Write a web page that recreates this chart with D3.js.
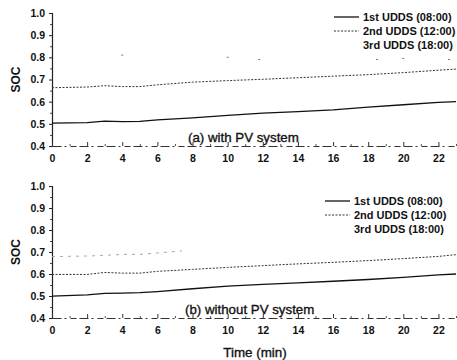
<!DOCTYPE html>
<html>
<head>
<meta charset="utf-8">
<script src="https://cdn.jsdelivr.net/npm/d3@7"></script>
<style>
  body { margin: 0; background: #fff; }
  svg { display: block; font-family: "Liberation Sans", Arial, sans-serif; }
</style>
</head>
<body>
<div id="vis-container"></div>
<script>
// time axis (min) shared by the 1st and 2nd run
var minutes = [0, 2, 3, 4, 5, 6, 8, 10, 12, 14, 16, 18, 20, 22, 23];

// (a) with PV system
var withPV1 = [0.503, 0.505, 0.512, 0.510, 0.511, 0.518, 0.527, 0.538, 0.548, 0.555, 0.563, 0.575, 0.586, 0.597, 0.600];
var withPV2 = [0.663, 0.666, 0.672, 0.668, 0.668, 0.676, 0.688, 0.695, 0.701, 0.708, 0.715, 0.722, 0.731, 0.742, 0.747];
// 3rd run barely survives in the scan, only a few dots
var withPV3Min = [4, 10, 11.8, 18.5, 20, 22.6];
var withPV3 = [0.81, 0.80, 0.79, 0.79, 0.795, 0.79];

// (b) without PV system
var noPV1 = [0.499, 0.505, 0.512, 0.513, 0.515, 0.520, 0.533, 0.545, 0.553, 0.560, 0.567, 0.575, 0.585, 0.596, 0.600];
var noPV2 = [0.598, 0.598, 0.607, 0.604, 0.604, 0.612, 0.621, 0.630, 0.638, 0.646, 0.653, 0.661, 0.670, 0.680, 0.688];
var noPV3Min = [0, 2.2, 4, 5, 7.4];
var noPV3 = [0.679, 0.682, 0.689, 0.689, 0.705];

var legendNames = ["1st UDDS (08:00)", "2nd UDDS (12:00)", "3rd UDDS (18:00)"];
var xTicks = d3.range(0, 23, 2);
var yTicks = [0.4, 0.5, 0.6, 0.7, 0.8, 0.9, 1.0];

var W = 457, H = 360;
var svg = d3.select("#vis-container").append("svg")
  .attr("width", W).attr("height", H);
svg.append("rect").attr("width", W).attr("height", H).attr("fill", "#fff");

var x = d3.scaleLinear().domain([0, 23]).range([52, 456]);

function heavy(sel) {
  // scanned print looks a bit thicker
  sel.attr("stroke", "#111").attr("stroke-width", 0.35);
}

function drawPanel(top, bottom, s1, s2, s3x, s3, s3asLine, label, labelX, legX, legY) {
  var y = d3.scaleLinear().domain([0.4, 1.0]).range([bottom, top]);
  var g = svg.append("g");

  // y axis, ticks pointing out
  var yAxis = g.append("g").attr("transform", "translate(52,0)")
    .call(d3.axisLeft(y).tickValues(yTicks).tickFormat(d3.format(".1f")).tickSize(3).tickPadding(4));
  yAxis.select(".domain").attr("stroke", "#222").attr("stroke-width", 1.2);
  yAxis.selectAll(".tick line").attr("stroke", "#222");
  yAxis.selectAll("text").style("font-size", "10.5px").style("font-weight", "bold").attr("fill", "#111");
  g.append("g").attr("transform", "translate(52,0)")
    .call(d3.axisLeft(y).tickValues(d3.range(0.45, 1.0, 0.1)).tickSize(2).tickFormat(""))
    .call(function(a) { a.select(".domain").remove(); a.selectAll("line").attr("stroke", "#444"); });

  // x axis: broken line, ticks pointing in
  var xAxis = g.append("g").attr("transform", "translate(0," + bottom + ")")
    .call(d3.axisBottom(x).tickValues(xTicks).tickSizeInner(-4).tickSizeOuter(0).tickPadding(9));
  xAxis.select(".domain").attr("stroke", "#333").attr("stroke-width", 1)
    .attr("stroke-dasharray", "9,3,2,4,6,3");
  xAxis.selectAll(".tick line").attr("stroke", "#333");
  xAxis.selectAll("text").style("font-size", "10.5px").style("font-weight", "bold").attr("fill", "#111");
  g.append("g").attr("transform", "translate(0," + bottom + ")")
    .call(d3.axisBottom(x).tickValues(d3.range(1, 24, 2)).tickSize(-2).tickFormat(""))
    .call(function(a) { a.select(".domain").remove(); a.selectAll("line").attr("stroke", "#555"); });

  var line = d3.line().x(function(d) { return x(d[0]); }).y(function(d) { return y(d[1]); });

  g.append("path").datum(minutes.map(function(m, i) { return [m, s1[i]]; }))
    .attr("d", line).attr("fill", "none").attr("stroke", "#111").attr("stroke-width", 1.3);
  g.append("path").datum(minutes.map(function(m, i) { return [m, s2[i]]; }))
    .attr("d", line).attr("fill", "none").attr("stroke", "#333").attr("stroke-width", 1)
    .attr("stroke-dasharray", "2,1.5");

  var pts3 = s3x.map(function(m, i) { return [m, s3[i]]; });
  if (s3asLine) {
    g.append("path").datum(pts3).attr("d", line).attr("fill", "none")
      .attr("stroke", "#aaa").attr("stroke-width", 1).attr("stroke-dasharray", "3,5");
  } else {
    g.selectAll(".p3").data(pts3).enter().append("line")
      .attr("x1", function(d) { return x(d[0]) - 1; })
      .attr("x2", function(d) { return x(d[0]) + 1; })
      .attr("y1", function(d) { return y(d[1]); })
      .attr("y2", function(d) { return y(d[1]); })
      .attr("stroke", "#777").attr("stroke-width", 1);
  }

  // legend
  legendNames.forEach(function(name, i) {
    var ly = legY + i * 14;
    if (i === 0) {
      g.append("line").attr("x1", legX).attr("x2", legX + 25).attr("y1", ly).attr("y2", ly)
        .attr("stroke", "#111").attr("stroke-width", 1.3);
    } else if (i === 1) {
      g.append("line").attr("x1", legX).attr("x2", legX + 25).attr("y1", ly).attr("y2", ly)
        .attr("stroke", "#333").attr("stroke-width", 1).attr("stroke-dasharray", "2,1.5");
    }
    g.append("text").attr("x", legX + 29).attr("y", ly).attr("dy", "0.35em")
      .style("font-size", "11px").style("font-weight", "bold").attr("fill", "#111")
      .text(name);
  });

  g.append("text").attr("x", labelX).attr("y", bottom - 4.5)
    .style("font-size", "13.3px").attr("fill", "#111").call(heavy).text(label);

  g.append("text").attr("transform", "translate(20," + ((top + bottom) / 2) + ") rotate(-90)")
    .attr("text-anchor", "middle").style("font-size", "12px").style("font-weight", "bold")
    .attr("fill", "#111").text("SOC");
}

drawPanel(13, 146, withPV1, withPV2, withPV3Min, withPV3, false, "(a) with PV system", 188, 334, 17);
drawPanel(186, 318, noPV1, noPV2, noPV3Min, noPV3, true, "(b) without PV system", 185, 325, 201);

svg.append("text").attr("x", 255).attr("y", 357).attr("text-anchor", "middle")
  .style("font-size", "13.4px").attr("fill", "#111").call(heavy).text("Time (min)");
</script>
</body>
</html>
